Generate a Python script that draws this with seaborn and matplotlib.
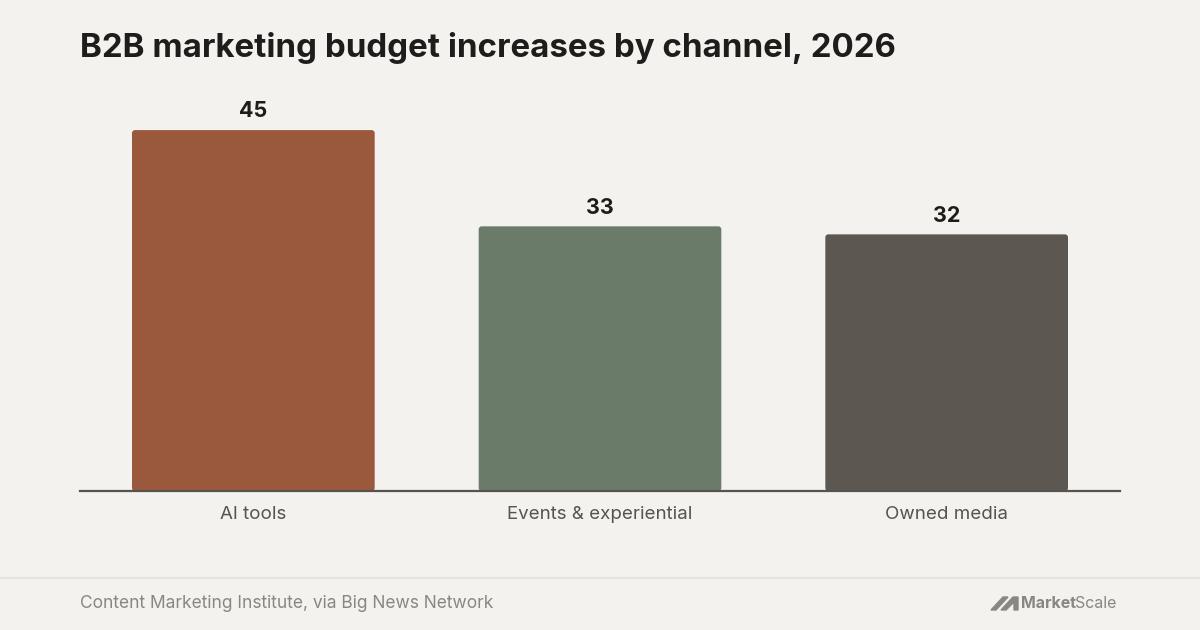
import matplotlib
matplotlib.use('Agg')
import matplotlib.pyplot as plt
import seaborn as sns
import pandas as pd
from matplotlib.patches import FancyBboxPatch, Polygon

# Data
channels = ['AI tools', 'Events & experiential', 'Owned media']
increase = [45, 33, 32]
bar_colors = ['#9A583C', '#6B7B6A', '#5C5750']

title = 'B2B marketing budget increases by channel, 2026'
source = 'Content Marketing Institute, via Big News Network'

bg = '#F4F2EE'
dark = '#1F1D1B'
mid = '#57534E'
light = '#8A8782'

df = pd.DataFrame({'channel': channels, 'increase': increase})

sns.set_theme(style='white')
plt.rcParams['font.family'] = ['Inter', 'DejaVu Sans']

fig = plt.figure(figsize=(12, 6.3), dpi=100, facecolor=bg)
ax = fig.add_axes([80 / 1200, 1 - 491 / 630, 1040 / 1200, 401 / 630])
ax.set_facecolor(bg)

sns.barplot(data=df, x='channel', y='increase', hue='channel',
            palette=bar_colors, width=0.7, saturation=1, legend=False, ax=ax)

ax.set_xlim(-0.5, 2.5)
ax.set_ylim(0, 50)

# swap plain bars for slightly rounded ones
px_x = 3 / 1040  # x units per pixel
px_y = 50 / 401
for p in list(ax.patches):
    x0, y0 = p.get_x(), p.get_y()
    w, h = p.get_width(), p.get_height()
    fc = p.get_facecolor()
    p.remove()
    rb = FancyBboxPatch((x0, y0), w, h,
                        boxstyle=f'round,pad=0,rounding_size={3 * px_x}',
                        mutation_aspect=px_y / px_x,
                        facecolor=fc, edgecolor='none', zorder=2)
    ax.add_patch(rb)

for i, v in enumerate(increase):
    ax.text(i, v + 1.1, str(v), ha='center', va='bottom',
            fontsize=15.5, fontweight='bold', color=dark)

sns.despine(ax=ax, left=True, top=True, right=True)
ax.spines['bottom'].set_color(mid)
ax.spines['bottom'].set_linewidth(1.6)
ax.spines['bottom'].set_zorder(3)
ax.set_yticks([])
ax.set_xlabel('')
ax.set_ylabel('')
ax.tick_params(axis='x', length=0, pad=11, labelsize=13.5, labelcolor=mid)

fig.text(80 / 1200, 1 - 48 / 630, title, ha='left', va='center',
         fontsize=23.8, fontweight='bold', color=dark)

# footer
fig.add_artist(plt.Line2D([0, 1], [1 - 578 / 630] * 2, color='#E6E3DE', lw=1.6))
fig.text(80 / 1200, 1 - 603 / 630, source, ha='left', va='center',
         fontsize=12.5, color=light)

# MarketScale logo
icon_y0, icon_y1 = 1 - 610 / 630, 1 - 597 / 630
fig.add_artist(Polygon([(991 / 1200, icon_y0), (1003 / 1200, icon_y1),
                        (1008 / 1200, icon_y1), (996 / 1200, icon_y0)],
                       closed=True, color=light, transform=fig.transFigure))
fig.add_artist(Polygon([(1001 / 1200, icon_y0), (1013 / 1200, icon_y1),
                        (1018 / 1200, icon_y1), (1018 / 1200, icon_y0),
                        (1014 / 1200, icon_y0), (1014 / 1200, icon_y1 - 5 / 630),
                        (1006 / 1200, icon_y0)],
                       closed=True, color=light, transform=fig.transFigure))
mk = fig.text(1021 / 1200, 1 - 604 / 630, 'Market', ha='left', va='center',
              fontsize=11.5, fontweight='bold', color=light)
fig.canvas.draw()
bb = mk.get_window_extent()
fig.text((bb.x1 - 1) / 1200, 1 - 604 / 630, 'Scale', ha='left', va='center',
         fontsize=11.5, color=light)

fig.savefig('out.png', dpi=100, facecolor=bg)
